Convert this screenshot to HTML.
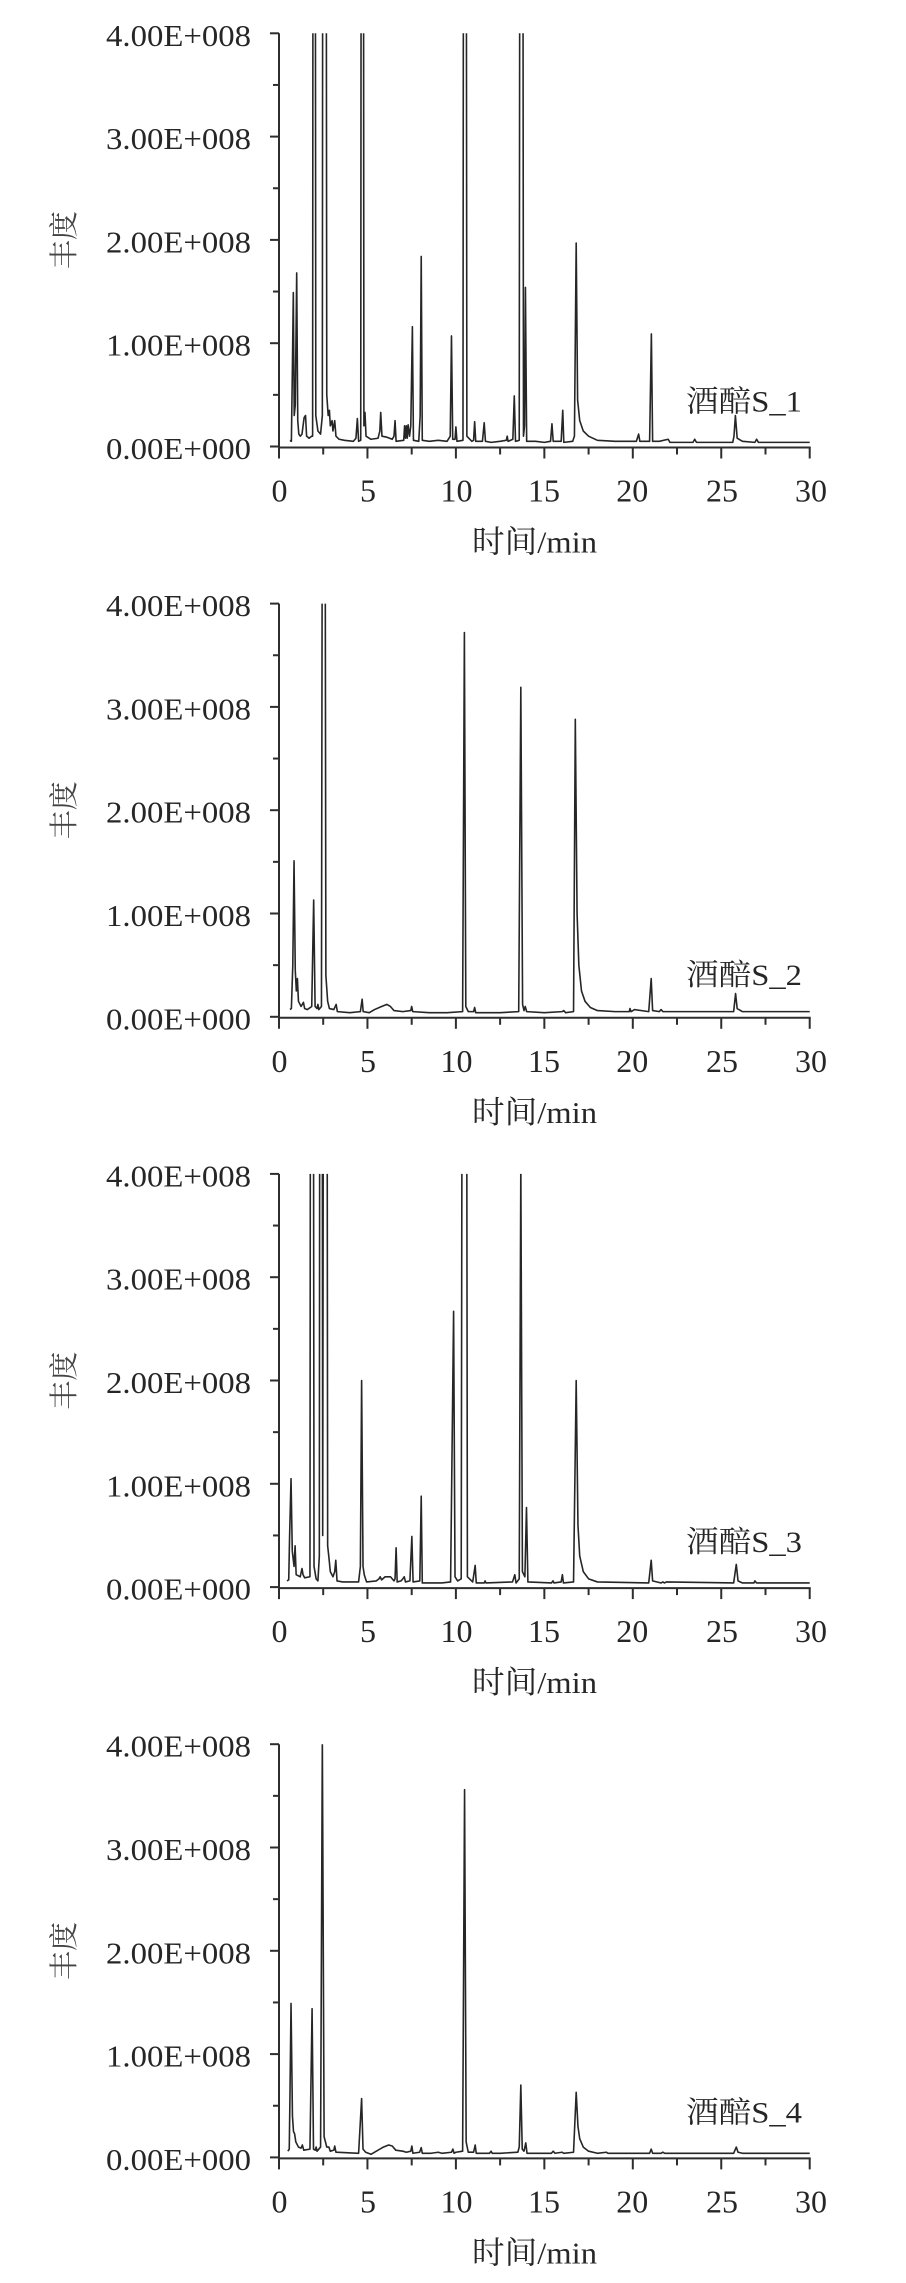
<!DOCTYPE html>
<html>
<head>
<meta charset="utf-8">
<style>
  html, body { margin: 0; padding: 0; background: #ffffff; }
  svg { display: block; }
  .num { font-family: "Liberation Serif", serif; fill: #262626; }
  .cjk { font-family: "Liberation Serif", "Noto Serif CJK SC", serif; fill: #262626; }
  .ax { stroke: #2e2e2e; stroke-width: 2; fill: none; }
  .data { fill: none; stroke: #262626; stroke-width: 1.6; stroke-linejoin: round; }
</style>
</head>
<body>
<svg width="906" height="2283" viewBox="0 0 906 2283" xmlns="http://www.w3.org/2000/svg">
  <rect x="0" y="0" width="906" height="2283" fill="#ffffff"/>
  <defs>
    <clipPath id="clip" clipPathUnits="userSpaceOnUse">
      <rect x="270" y="33.3" width="545" height="414"/>
    </clipPath>
    <g id="axes">
      <line class="ax" x1="279" y1="33.3" x2="279" y2="458.5"/>
      <line class="ax" x1="278" y1="447.5" x2="810.7" y2="447.5"/>
      <line class="ax" x1="367.45" y1="447.5" x2="367.45" y2="458.5"/>
      <line class="ax" x1="455.9" y1="447.5" x2="455.9" y2="458.5"/>
      <line class="ax" x1="544.35" y1="447.5" x2="544.35" y2="458.5"/>
      <line class="ax" x1="632.8" y1="447.5" x2="632.8" y2="458.5"/>
      <line class="ax" x1="721.25" y1="447.5" x2="721.25" y2="458.5"/>
      <line class="ax" x1="809.7" y1="447.5" x2="809.7" y2="458.5"/>
      <line class="ax" x1="323.2" y1="447.5" x2="323.2" y2="454.5"/>
      <line class="ax" x1="411.7" y1="447.5" x2="411.7" y2="454.5"/>
      <line class="ax" x1="500.1" y1="447.5" x2="500.1" y2="454.5"/>
      <line class="ax" x1="588.6" y1="447.5" x2="588.6" y2="454.5"/>
      <line class="ax" x1="677.0" y1="447.5" x2="677.0" y2="454.5"/>
      <line class="ax" x1="765.5" y1="447.5" x2="765.5" y2="454.5"/>
      <line class="ax" x1="270" y1="446.5" x2="279" y2="446.5"/>
      <line class="ax" x1="270" y1="343.2" x2="279" y2="343.2"/>
      <line class="ax" x1="270" y1="239.9" x2="279" y2="239.9"/>
      <line class="ax" x1="270" y1="136.6" x2="279" y2="136.6"/>
      <line class="ax" x1="270" y1="33.3" x2="279" y2="33.3"/>
      <line class="ax" x1="273" y1="394.85" x2="279" y2="394.85"/>
      <line class="ax" x1="273" y1="291.55" x2="279" y2="291.55"/>
      <line class="ax" x1="273" y1="188.25" x2="279" y2="188.25"/>
      <line class="ax" x1="273" y1="84.95" x2="279" y2="84.95"/>
      <text class="num" x="251" y="459" font-size="31" text-anchor="end" textLength="145" lengthAdjust="spacingAndGlyphs">0.00E+000</text>
      <text class="num" x="251" y="355.7" font-size="31" text-anchor="end" textLength="145" lengthAdjust="spacingAndGlyphs">1.00E+008</text>
      <text class="num" x="251" y="252.4" font-size="31" text-anchor="end" textLength="145" lengthAdjust="spacingAndGlyphs">2.00E+008</text>
      <text class="num" x="251" y="149.1" font-size="31" text-anchor="end" textLength="145" lengthAdjust="spacingAndGlyphs">3.00E+008</text>
      <text class="num" x="251" y="45.8" font-size="31" text-anchor="end" textLength="145" lengthAdjust="spacingAndGlyphs">4.00E+008</text>
      <text class="num" x="279.5" y="501.5" font-size="32" text-anchor="middle">0</text>
      <text class="num" x="368" y="501.5" font-size="32" text-anchor="middle">5</text>
      <text class="num" x="456.5" y="501.5" font-size="32" text-anchor="middle">10</text>
      <text class="num" x="544" y="501.5" font-size="32" text-anchor="middle">15</text>
      <text class="num" x="632.3" y="501.5" font-size="32" text-anchor="middle">20</text>
      <text class="num" x="722" y="501.5" font-size="32" text-anchor="middle">25</text>
      <text class="num" x="811" y="501.5" font-size="32" text-anchor="middle">30</text>
      <text class="cjk" x="472" y="552.5" font-size="31" textLength="125" lengthAdjust="spacingAndGlyphs">时间/min</text>
      <text class="cjk" transform="translate(65,240) rotate(-90)" font-size="29" text-anchor="middle" dominant-baseline="central" style="fill:#444">丰度</text>
    </g>
  </defs>

  <!-- Panel 1 -->
  <g transform="translate(0,0)">
    <use href="#axes"/>
    <g clip-path="url(#clip)">
      <path class="data" vector-effect="non-scaling-stroke" transform="translate(279,446.5) scale(17.69,-103.3)"
        d="M0.62,0.06 L0.7,0.05 L0.76,0.8 L0.81,1.49 L0.86,0.3 L0.92,0.4 L1.0,1.68 L1.06,0.25 L1.12,0.12 L1.2,0.1 L1.3,0.12 L1.42,0.28 L1.5,0.3 L1.56,0.1 L1.7,0.08 L1.85,0.1 L1.9,0.1 L1.98,20 L2.08,0.3 L2.2,0.15 L2.35,0.12 L2.45,0.3 L2.55,25 L2.7,0.5 L2.78,0.3 L2.85,0.35 L2.9,0.2 L3.0,0.25 L3.05,0.15 L3.15,0.25 L3.22,0.1 L3.4,0.07 L3.7,0.06 L4.2,0.05 L4.35,0.08 L4.43,0.27 L4.5,0.05 L4.62,0.06 L4.71,20 L4.8,0.2 L4.86,0.33 L4.92,0.1 L5.2,0.07 L5.6,0.08 L5.7,0.15 L5.75,0.33 L5.82,0.1 L6.1,0.09 L6.4,0.07 L6.5,0.1 L6.56,0.25 L6.62,0.05 L7.05,0.06 L7.1,0.2 L7.15,0.08 L7.2,0.2 L7.25,0.08 L7.3,0.21 L7.38,0.1 L7.45,0.2 L7.54,1.16 L7.6,0.06 L7.9,0.05 L7.98,0.3 L8.04,1.84 L8.1,0.06 L8.5,0.05 L9.0,0.06 L9.5,0.05 L9.68,0.1 L9.75,1.07 L9.82,0.07 L9.95,0.07 L10.0,0.19 L10.06,0.05 L10.4,0.06 L10.5,20 L10.62,0.1 L10.9,0.05 L11.0,0.06 L11.06,0.24 L11.12,0.05 L11.5,0.05 L11.6,0.23 L11.67,0.05 L12.0,0.04 L12.5,0.05 L12.85,0.06 L12.9,0.1 L12.95,0.05 L13.22,0.07 L13.3,0.49 L13.37,0.05 L13.58,0.06 L13.7,20 L13.82,0.1 L13.88,0.2 L13.93,1.54 L14.0,0.05 L14.5,0.05 L15.0,0.04 L15.35,0.05 L15.43,0.22 L15.5,0.05 L15.95,0.05 L16.04,0.35 L16.1,0.04 L16.6,0.05 L16.7,0.1 L16.8,1.97 L16.88,0.45 L17.0,0.25 L17.2,0.15 L17.5,0.1 L18,0.06 L19,0.05 L20.2,0.05 L20.33,0.12 L20.4,0.05 L20.95,0.05 L21.05,1.09 L21.12,0.05 L21.5,0.05 L22,0.07 L22.1,0.04 L23.4,0.04 L23.5,0.07 L23.6,0.04 L25.65,0.04 L25.72,0.1 L25.8,0.3 L25.9,0.08 L26.2,0.05 L26.9,0.04 L27,0.07 L27.1,0.04 L30,0.04"/>
    </g>
    <text class="cjk" x="686" y="411.5" font-size="30" textLength="116" lengthAdjust="spacingAndGlyphs">酒醅S_1</text>
  </g>

  <!-- Panel 2 -->
  <g transform="translate(0,570.3)">
    <use href="#axes"/>
    <g clip-path="url(#clip)">
      <path class="data" vector-effect="non-scaling-stroke" transform="translate(279,446.5) scale(17.69,-103.3)"
        d="M0.62,0.07 L0.7,0.08 L0.78,0.5 L0.85,1.51 L0.92,0.45 L0.98,0.25 L1.04,0.37 L1.1,0.15 L1.25,0.1 L1.38,0.14 L1.45,0.08 L1.6,0.07 L1.85,0.1 L1.96,1.13 L2.04,0.1 L2.15,0.08 L2.2,0.12 L2.25,0.07 L2.4,0.1 L2.53,14 L2.65,0.4 L2.75,0.15 L2.85,0.08 L3.1,0.07 L3.23,0.12 L3.3,0.05 L4.0,0.04 L4.6,0.05 L4.7,0.17 L4.76,0.05 L5.1,0.04 L5.4,0.07 L5.8,0.1 L6.1,0.12 L6.3,0.1 L6.5,0.06 L7.0,0.05 L7.45,0.06 L7.5,0.1 L7.56,0.05 L8.5,0.04 L9.5,0.04 L10.38,0.05 L10.48,3.72 L10.56,0.1 L10.7,0.05 L11.0,0.05 L11.06,0.09 L11.12,0.04 L12.5,0.04 L13.55,0.05 L13.67,3.19 L13.77,0.12 L13.85,0.06 L13.92,0.1 L14.0,0.05 L15.0,0.04 L16.0,0.05 L16.1,0.06 L16.2,0.04 L16.65,0.05 L16.75,2.88 L16.85,1.0 L16.95,0.5 L17.1,0.25 L17.3,0.15 L17.6,0.09 L18,0.06 L19,0.05 L19.8,0.05 L19.84,0.08 L19.9,0.05 L20.1,0.07 L20.9,0.05 L21.04,0.37 L21.12,0.06 L21.5,0.05 L21.6,0.07 L21.7,0.05 L25.7,0.05 L25.81,0.225 L25.9,0.08 L26.2,0.05 L30,0.05"/>
    </g>
    <text class="cjk" x="686" y="414.5" font-size="30" textLength="116" lengthAdjust="spacingAndGlyphs">酒醅S_2</text>
  </g>

  <!-- Panel 3 -->
  <g transform="translate(0,1140.6)">
    <use href="#axes"/>
    <g clip-path="url(#clip)">
      <path class="data" vector-effect="non-scaling-stroke" transform="translate(279,446.5) scale(17.69,-103.3)"
        d="M0.45,0.06 L0.55,0.07 L0.6,0.5 L0.68,1.05 L0.75,0.35 L0.85,0.2 L0.91,0.4 L0.97,0.12 L1.2,0.1 L1.3,0.18 L1.36,0.12 L1.45,0.09 L1.75,0.1 L1.85,20 L1.98,0.2 L2.1,0.08 L2.2,0.06 L2.28,0.3 L2.37,20 L2.47,0.5 L2.63,20 L2.75,0.4 L2.82,0.29 L2.9,0.15 L3.05,0.1 L3.15,0.15 L3.21,0.26 L3.28,0.06 L3.6,0.05 L4.5,0.05 L4.6,0.2 L4.67,2.0 L4.75,0.2 L4.82,0.12 L4.95,0.05 L5.5,0.06 L5.65,0.08 L5.72,0.1 L5.8,0.07 L6.0,0.1 L6.3,0.1 L6.5,0.06 L6.56,0.08 L6.62,0.38 L6.68,0.05 L6.9,0.06 L7.0,0.08 L7.08,0.1 L7.15,0.05 L7.4,0.06 L7.51,0.49 L7.58,0.05 L7.96,0.06 L8.04,0.88 L8.1,0.04 L8.6,0.04 L9.2,0.04 L9.7,0.05 L9.87,2.67 L9.95,0.1 L10.1,0.06 L10.3,0.08 L10.49,20 L10.65,0.1 L10.95,0.05 L11.09,0.21 L11.15,0.04 L11.6,0.04 L11.65,0.06 L11.7,0.04 L13.2,0.05 L13.33,0.12 L13.4,0.04 L13.58,0.08 L13.67,4.1 L13.76,0.15 L13.9,0.1 L13.99,0.77 L14.07,0.05 L15.4,0.04 L15.49,0.06 L15.55,0.04 L15.95,0.05 L16.02,0.12 L16.08,0.04 L16.65,0.05 L16.8,2.0 L16.9,0.6 L17.0,0.3 L17.2,0.15 L17.5,0.08 L18,0.05 L20.9,0.04 L21.04,0.26 L21.12,0.06 L21.6,0.04 L21.7,0.05 L21.79,0.04 L21.9,0.05 L25.7,0.04 L25.85,0.22 L25.95,0.06 L26.2,0.04 L26.85,0.04 L26.9,0.06 L27,0.04 L30,0.04"/>
    </g>
    <text class="cjk" x="686" y="411.5" font-size="30" textLength="116" lengthAdjust="spacingAndGlyphs">酒醅S_3</text>
  </g>

  <!-- Panel 4 -->
  <g transform="translate(0,1710.9)">
    <use href="#axes"/>
    <g clip-path="url(#clip)">
      <path class="data" vector-effect="non-scaling-stroke" transform="translate(279,446.5) scale(17.69,-103.3)"
        d="M0.5,0.06 L0.58,0.08 L0.62,0.6 L0.68,1.49 L0.76,0.4 L0.82,0.25 L0.88,0.23 L0.95,0.15 L1.1,0.1 L1.25,0.09 L1.32,0.12 L1.4,0.07 L1.75,0.08 L1.87,1.44 L1.95,0.08 L2.05,0.07 L2.1,0.1 L2.15,0.06 L2.35,0.1 L2.45,4.05 L2.55,0.2 L2.7,0.1 L2.82,0.1 L2.9,0.06 L3.1,0.07 L3.15,0.11 L3.22,0.05 L4.5,0.04 L4.67,0.57 L4.75,0.08 L4.9,0.05 L5.2,0.03 L5.5,0.06 L5.9,0.1 L6.2,0.12 L6.4,0.11 L6.6,0.07 L7.0,0.06 L7.2,0.05 L7.45,0.06 L7.51,0.11 L7.57,0.04 L7.95,0.05 L8.04,0.095 L8.1,0.04 L8.6,0.04 L9.0,0.05 L9.2,0.04 L9.75,0.05 L9.83,0.08 L9.9,0.04 L10.0,0.05 L10.38,0.06 L10.49,3.56 L10.58,0.15 L10.7,0.05 L11.0,0.05 L11.09,0.12 L11.15,0.04 L11.9,0.04 L11.99,0.06 L12.05,0.04 L12.5,0.04 L13.5,0.05 L13.58,0.1 L13.67,0.70 L13.75,0.08 L13.85,0.06 L13.95,0.14 L14.02,0.04 L15.4,0.04 L15.5,0.06 L15.6,0.04 L16.0,0.05 L16.1,0.04 L16.65,0.05 L16.8,0.63 L16.9,0.3 L17.0,0.18 L17.2,0.1 L17.5,0.06 L18,0.04 L18.5,0.05 L18.6,0.04 L20.95,0.04 L21.04,0.08 L21.12,0.04 L21.6,0.04 L21.7,0.05 L21.8,0.04 L25.7,0.04 L25.85,0.1 L25.95,0.05 L26.2,0.04 L30,0.04"/>
    </g>
    <text class="cjk" x="686" y="411.5" font-size="30" textLength="116" lengthAdjust="spacingAndGlyphs">酒醅S_4</text>
  </g>
</svg>
</body>
</html>
